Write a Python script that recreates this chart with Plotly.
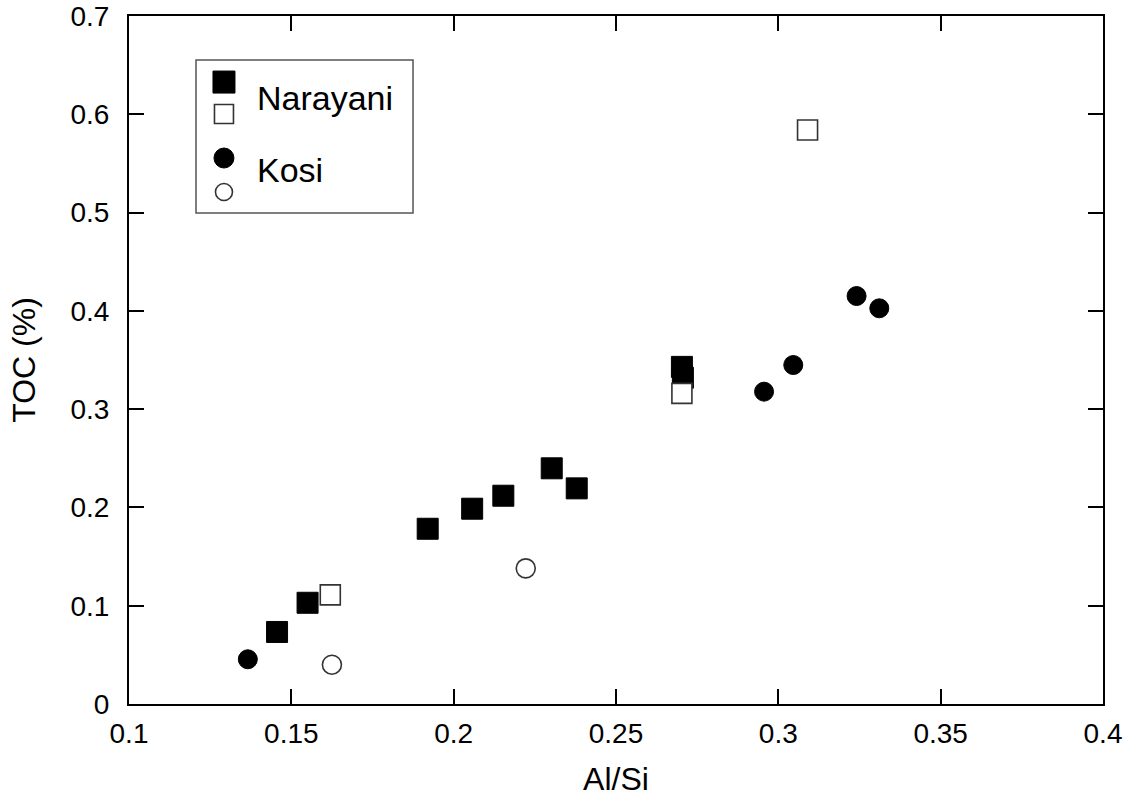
import plotly.graph_objects as go

# Narayani (filled squares)
nar_fill_x = [0.1456, 0.1550, 0.1920, 0.2057, 0.2153, 0.2302, 0.2379, 0.2703, 0.2706]
nar_fill_y = [0.0733, 0.103, 0.1783, 0.1987, 0.2119, 0.2398, 0.2194, 0.343, 0.332]
# Narayani (open squares)
nar_open_x = [0.1620, 0.2703, 0.3090]
nar_open_y = [0.111, 0.316, 0.584]
# Kosi (filled circles)
kosi_fill_x = [0.1366, 0.2956, 0.3046, 0.3241, 0.3311]
kosi_fill_y = [0.0455, 0.3178, 0.3449, 0.4151, 0.4026]
# Kosi (open circles)
kosi_open_x = [0.1625, 0.2222]
kosi_open_y = [0.040, 0.138]

x_ticks = [0.1, 0.15, 0.2, 0.25, 0.3, 0.35, 0.4]
x_ticktext = ["0.1", "0.15", "0.2", "0.25", "0.3", "0.35", "0.4"]
y_ticks = [0, 0.1, 0.2, 0.3, 0.4, 0.5, 0.6, 0.7]
y_ticktext = ["0", "0.1", "0.2", "0.3", "0.4", "0.5", "0.6", "0.7"]

FONT = "Arial, Liberation Sans, sans-serif"

fig = go.Figure()
fig.add_trace(go.Scatter(x=nar_fill_x, y=nar_fill_y, mode="markers", showlegend=False,
                         marker=dict(symbol="square", size=21, color="black",
                                     line=dict(color="black", width=1))))
fig.add_trace(go.Scatter(x=nar_open_x, y=nar_open_y, mode="markers", showlegend=False,
                         marker=dict(symbol="square", size=20, color="white",
                                     line=dict(color="#333", width=1.6))))
fig.add_trace(go.Scatter(x=kosi_fill_x, y=kosi_fill_y, mode="markers", showlegend=False,
                         marker=dict(symbol="circle", size=19, color="black",
                                     line=dict(color="black", width=1))))
fig.add_trace(go.Scatter(x=kosi_open_x, y=kosi_open_y, mode="markers", showlegend=False,
                         marker=dict(symbol="circle", size=19, color="white",
                                     line=dict(color="#333", width=1.6))))

# Manual legend (keys on an overlay axis spanning the plot area, 0..1)
leg_x = [0.0975, 0.0975, 0.0975, 0.0975]
leg_y = [0.904, 0.8576, 0.7936, 0.7442]
leg_sym = ["square", "square", "circle", "circle"]
leg_fill = ["black", "white", "black", "white"]
leg_size = [22, 19, 20, 17]
for i in range(4):
    fig.add_trace(go.Scatter(x=[leg_x[i]], y=[leg_y[i]], xaxis="x2", yaxis="y2",
                             mode="markers", showlegend=False, hoverinfo="skip",
                             marker=dict(symbol=leg_sym[i], size=leg_size[i], color=leg_fill[i],
                                         line=dict(color="black" if leg_fill[i] == "black" else "#333",
                                                   width=1 if leg_fill[i] == "black" else 1.6))))

fig.add_shape(type="rect", xref="paper", yref="paper", x0=0.0688, x1=0.2916, y0=0.7137, y1=0.936,
              line=dict(color="#555", width=1.5), fillcolor="rgba(0,0,0,0)", layer="below")
fig.add_annotation(xref="paper", yref="paper", x=0.1294, y=0.8808, text="Narayani", showarrow=False,
                   xanchor="left", yanchor="middle", font=dict(family=FONT, size=34, color="black"))
fig.add_annotation(xref="paper", yref="paper", x=0.1294, y=0.776, text="Kosi", showarrow=False,
                   xanchor="left", yanchor="middle", font=dict(family=FONT, size=34, color="black"))

axis_common = dict(showline=True, linecolor="black", linewidth=2, mirror="ticks",
                   ticks="inside", ticklen=15, tickwidth=2, tickcolor="black",
                   showgrid=False, zeroline=False, automargin=False,
                   ticklabeloverflow="allow",
                   tickfont=dict(family=FONT, size=28, color="black"))

fig.update_layout(
    width=1132, height=805,
    margin=dict(l=129, r=29, t=16, b=101, autoexpand=False),
    paper_bgcolor="white", plot_bgcolor="white",
    xaxis=dict(range=[0.1, 0.4], tickvals=x_ticks, ticktext=x_ticktext,
               ticklabelstandoff=3,
               title=dict(text="Al/Si", font=dict(family=FONT, size=32, color="black"), standoff=20),
               **axis_common),
    yaxis=dict(range=[0, 0.7], tickvals=y_ticks, ticktext=y_ticktext,
               ticklabelstandoff=12,
               title=dict(text="TOC (%)", font=dict(family=FONT, size=32, color="black"), standoff=25),
               **axis_common),
    xaxis2=dict(range=[0, 1], overlaying="x", visible=False, fixedrange=True),
    yaxis2=dict(range=[0, 1], overlaying="y", visible=False, fixedrange=True),
)

fig.write_html("out.html", config={"displayModeBar": False},
               post_script="document.body.style.margin='0';document.body.style.overflow='hidden';")
